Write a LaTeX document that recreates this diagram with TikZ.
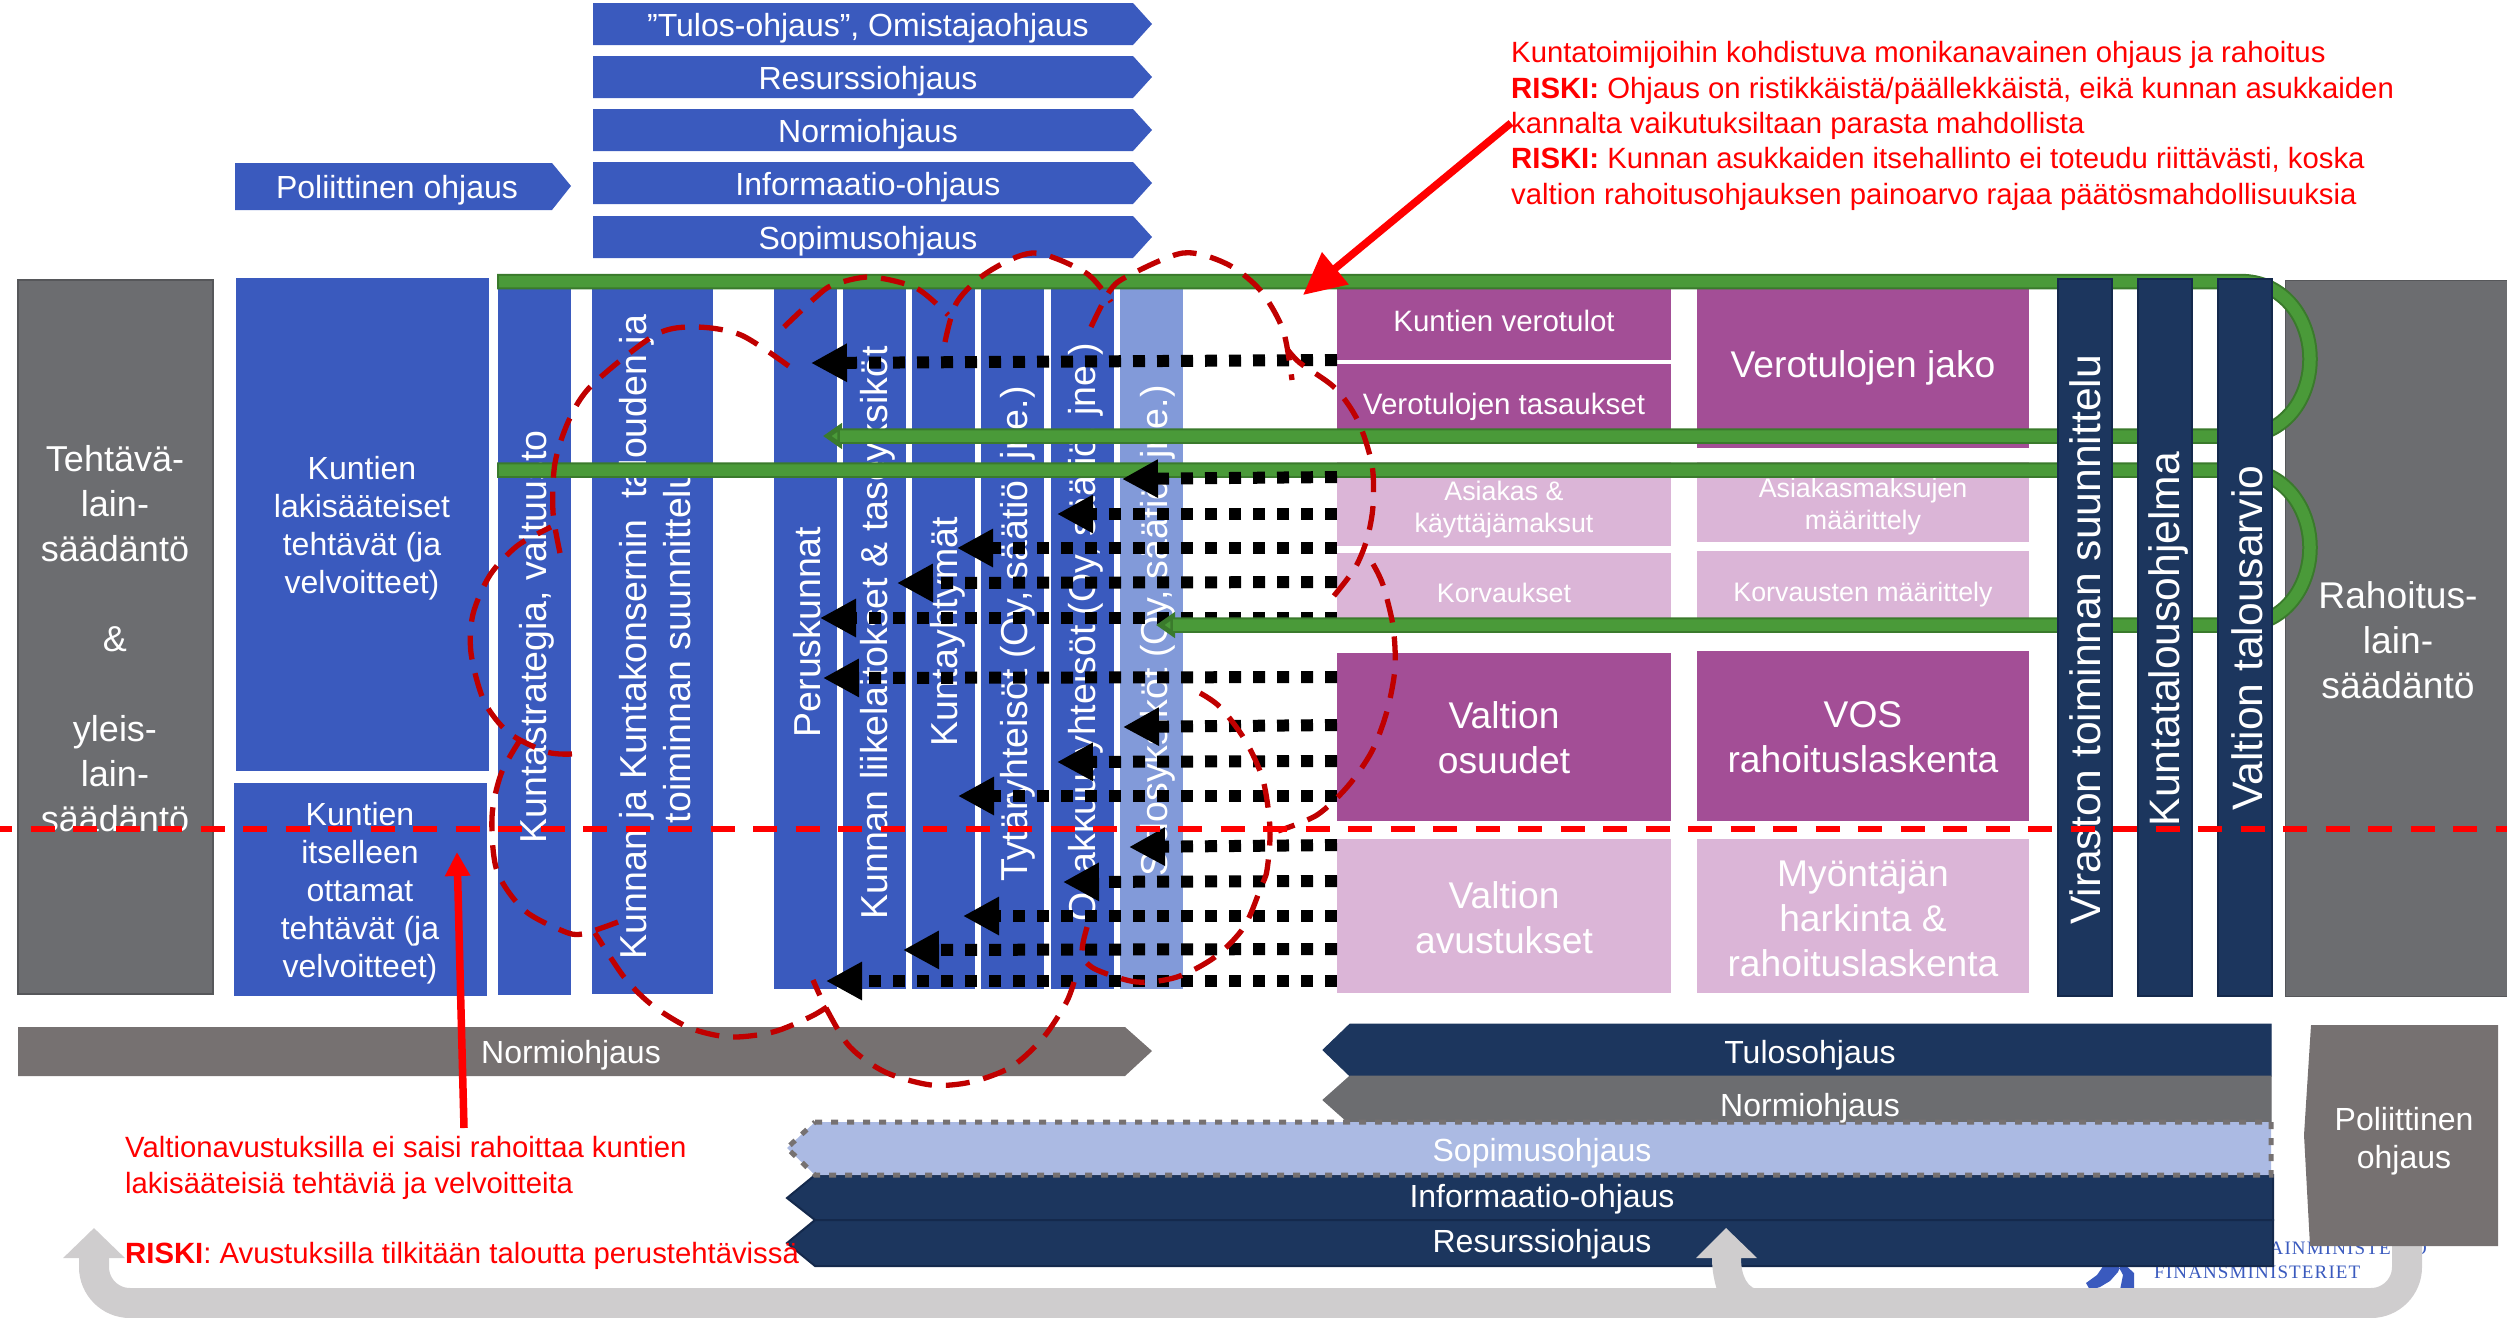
\documentclass[tikz,border=0pt]{standalone}
\usepackage{fontspec}
\setmainfont{Liberation Sans}
\newfontfamily\logofont[LetterSpace=6]{Liberation Serif}
\usetikzlibrary{arrows.meta}
\definecolor{cblue}{HTML}{3A5ABE}
\definecolor{clight}{HTML}{829AD9}
\definecolor{csop}{HTML}{ABBAE3}
\definecolor{cnavy}{HTML}{1C365E}
\definecolor{cnavyd}{HTML}{14294C}
\definecolor{cgrey}{HTML}{6C6D70}
\definecolor{cgreyw}{HTML}{767171}
\definecolor{cpur}{HTML}{A34E96}
\definecolor{cpink}{HTML}{DBB5D7}
\definecolor{cgreen}{HTML}{4A9A39}
\definecolor{cgreend}{HTML}{3A7A2C}
\definecolor{cband}{HTML}{CFCDCE}
\definecolor{cdred}{HTML}{C00000}
\tikzset{
  wt/.style={text=white,align=center,inner sep=0pt},
  f32/.style={wt,font=\fontsize{32}{38}\selectfont},
  f36/.style={wt,font=\fontsize{36}{45}\selectfont},
  f37/.style={wt,font=\fontsize{37.2}{45}\selectfont},
  f42/.style={wt,font=\fontsize{42.6}{45}\selectfont,rotate=90},
  f29/.style={wt,font=\fontsize{29.5}{32}\selectfont},
  f27/.style={wt,font=\fontsize{26.8}{32}\selectfont},
  col/.style={wt,font=\fontsize{37.5}{44}\selectfont,rotate=90},
  rtxt/.style={text=red,align=left,inner sep=0pt,font=\fontsize{29.3}{35.3}\selectfont},
  dotarr/.style={black,line width=12pt,dash pattern=on 12pt off 12pt,-{Triangle[length=36pt,width=36pt]}},
  lobe/.style={draw=cdred,line width=5.3pt,dash pattern=on 24pt off 14pt},
  greenout/.style={draw=cgreend,line width=15.5pt},
  greenin/.style={draw=cgreen,line width=11.5pt},
  redarrow/.style={draw=red,line width=7.5pt},
}
\begin{document}
\begin{tikzpicture}[x=1pt,y=-1pt]
\useasboundingbox (0,0) rectangle (2507,1317);
% logo
\node[anchor=base west,inner sep=0pt,text=cblue,font=\fontsize{19}{20}\selectfont\logofont] (logoa) at (2155,1254) {VALTIOVARAINMINISTERIÖ};
\node[anchor=base west,inner sep=0pt,text=cblue,font=\fontsize{19}{20}\selectfont\logofont] (logob) at (2154,1278) {FINANSMINISTERIET};
\fill[cblue] (2106,1262) -- (2097,1275) -- (2086,1283) -- (2090,1290) -- (2100,1287) -- (2110,1281) -- (2118,1272) -- (2122,1262) -- (2134,1273) -- (2134,1290) -- (2120,1290) -- (2123,1275) -- (2116,1262) -- cycle;
% bottom chevrons
\draw[fill=cnavy,draw=cnavy,line width=1pt] (1350,1024) -- (2271,1024) -- (2271,1076) -- (1350,1076) -- (1323,1050) -- cycle;
\node[f32] (tulos) at (1810,1055) {Tulosohjaus};
\draw[fill=cgrey,draw=cgrey,line width=1pt] (1350,1076) -- (2271,1076) -- (2271,1124) -- (1350,1124) -- (1323,1100) -- cycle;
\draw[fill=cnavy,draw=cnavyd,line width=2pt] (815,1175) -- (2273,1175) -- (2273,1220) -- (815,1220) -- (787,1198) -- cycle;
\node[f32] (info) at (1542,1199) {Informaatio-ohjaus};
\draw[fill=cnavy,draw=cnavyd,line width=2pt] (815,1220) -- (2273,1220) -- (2273,1266) -- (815,1266) -- (787,1243) -- cycle;
\node[f32] (resurssi) at (1542,1244) {Resurssiohjaus};
\fill[csop] (815,1122) -- (2271,1122) -- (2271,1175) -- (815,1175) -- (787,1148) -- cycle;
\draw[cgreyw,line width=5pt,dash pattern=on 7pt off 9pt] (815,1122) -- (2271,1122) -- (2271,1175) -- (815,1175) -- (787,1148) -- cycle;
\node[f32] (normir) at (1810,1108) {Normiohjaus};
\node[f32] (sopr) at (1542,1153) {Sopimusohjaus};
% grey return arrow
\coordinate (bandS) at (2407,1230);
\coordinate (bandE) at (94,1228);
\draw[cband,line width=30pt,rounded corners=36pt,-{Triangle[length=30pt,width=60pt]}] (bandS) -- (2407,1303) -- (94,1303) -- (bandE);
\fill[cband] (1696,1258) -- (1726,1228) -- (1757,1258) -- (1741,1258) .. controls (1741,1275) and (1747,1290) .. (1762,1290) -- (1717,1290) .. controls (1714,1280) and (1712,1270) .. (1712,1258) -- cycle;
% right polit
\fill[cgreyw] (2311,1025) -- (2498,1025) -- (2498,1246) -- (2310,1246) -- (2304,1135) -- cycle;
\node[f32] (polr) at (2404,1141) {Poliittinen\\ohjaus};
% Normiohjaus left
\fill[cgreyw] (18,1027) -- (1125,1027) -- (1152,1051) -- (1125,1076) -- (18,1076) -- cycle;
\node[f32] (norml) at (571,1055) {Normiohjaus};
% top chevrons
\foreach \n/\y/\t in {a/3/{”Tulos-ohjaus”, Omistajaohjaus},b/56/Resurssiohjaus,c/109/Normiohjaus,d/162/Informaatio-ohjaus,e/216/Sopimusohjaus}{
  \fill[cblue] (593,\y) -- (1133,\y) -- (1152,\y+21) -- (1133,\y+42) -- (593,\y+42) -- cycle;
  \node[f32] (top\n) at (868,\y+25) {\t};
}
\fill[cblue] (235,163) -- (552,163) -- (571,186) -- (552,210) -- (235,210) -- cycle;
\node[f32] (poll) at (397,190) {Poliittinen ohjaus};
% left boxes
\draw[fill=cgrey,draw=cgrey!80!black,line width=2pt] (18,280) rectangle (213,994);
\node[f36] (teht) at (115,639) {Tehtävä-\\lain-\\säädäntö\\[45pt]\&\\[45pt]yleis-\\lain-\\säädäntö};
\fill[cblue] (236,278) rectangle (489,771);
\node[f32] (lak) at (362,528) {Kuntien\\lakisääteiset\\tehtävät (ja\\velvoitteet)};
\fill[cblue] (234,783) rectangle (487,996);
\node[f32] (its) at (360,893) {Kuntien\\itselleen\\ottamat\\tehtävät (ja\\velvoitteet)};
% columns
\foreach \n/\xa/\xb/\yb/\c in {c1/498/571/995/cblue,c2/592/713/994/cblue,c3/774/837/989/cblue,c4/843/906/989/cblue,c5/912/975/989/cblue,c6/981/1044/989/cblue,c7/1051/1114/989/cblue,c8/1120/1183/989/clight}{
  \fill[\c] (\xa,280) rectangle (\xb,\yb);
}
\node[col] (t1) at (537,637) {Kuntastrategia, valtuusto};
\node[col] (t2) at (655,637) {Kunnan ja Kuntakonsernin \ talouden ja\\toiminnan suunnittelu\hspace*{18pt}};
\node[col] (t3) at (807,632) {Peruskunnat};
\node[col] (t4) at (878,633) {Kunnan liikelaitokset \& taseyksiköt};
\node[col] (t5) at (948,632) {Kuntayhtymät};
\node[col] (t6) at (1018,634) {Tytäryhteisöt (Oy, säätiö, jne.)};
\node[col] (t7) at (1086,632) {Osakkuusyhteisöt (Oy, säätiö, jne.)};
\node[col] (t8) at (1158,631) {Sidosyksiköt (Oy, säätiö, jne.)};
% purple boxes
\fill[cpur] (1337,289) rectangle (1671,360);
\node[f29] (vt) at (1504,321) {Kuntien verotulot};
\fill[cpur] (1337,364) rectangle (1671,430);
\node[f29] (vtt) at (1504,407) {Verotulojen tasaukset};
\fill[cpur] (1697,289) rectangle (2029,448);
\node[f37] (vj) at (1863,368) {Verotulojen jako};
\fill[cpink] (1337,462) rectangle (1671,546);
\node[f27] (as) at (1504,510) {Asiakas \&\\käyttäjämaksut};
\fill[cpink] (1697,462) rectangle (2029,542);
\node[f27] (asm) at (1863,507) {Asiakasmaksujen\\määrittely};
\fill[cpink] (1337,553) rectangle (1671,620);
\node[f27] (ko) at (1504,593) {Korvaukset};
\fill[cpink] (1697,551) rectangle (2029,620);
\node[f27] (kom) at (1863,595) {Korvausten määrittely};
\fill[cpur] (1337,653) rectangle (1671,821);
\node[f37] (vo) at (1504,738) {Valtion\\osuudet};
\fill[cpur] (1697,651) rectangle (2029,821);
\node[f37] (vos) at (1863,737) {VOS\\rahoituslaskenta};
\fill[cpink] (1337,839) rectangle (1671,993);
\node[f37] (va) at (1504,918) {Valtion\\avustukset};
\fill[cpink] (1697,839) rectangle (2029,993);
\node[f37] (my) at (1863,918) {Myöntäjän\\harkinta \&\\rahoituslaskenta};
% right grey
\draw[fill=cgrey,draw=cgrey!80!black,line width=1pt] (2285,280) rectangle (2508,996);
\node[f37] (rah) at (2398,640) {Rahoitus-\\lain-\\säädäntö};
% dotted arrows
\foreach \i/\xa/\ya/\yb in {1/811/363/360,3/1057/514/514,4/957/548/548,5/897/583/582,6/820/618/618,7/823/678/677,8/1123/727/725,9/1057/762/761,10/958/796/796,11/1129/847/845,12/1063/882/881,13/963/916/916,14/903/950/949,15/826/981/981}{
  \coordinate (src\i) at (1337,\yb);
  \coordinate (dst\i) at (\xa,\ya);
  \draw[dotarr] (src\i) -- (dst\i);
}
% green loops
\coordinate (g1s) at (497,281.5);
\coordinate (g1e) at (823,436);
\coordinate (g2s) at (497,470);
\coordinate (g2e) at (1156,625);
\draw[greenout,-{Triangle[length=19pt,width=25pt,fill=cgreen]}] (g1s) -- (2240,281.5) .. controls (2285,281.5) and (2310,320) .. (2310,359) .. controls (2310,398) and (2285,436) .. (2240,436) -- (g1e);
\draw[greenin] (499,281.5) -- (2240,281.5) .. controls (2285,281.5) and (2310,320) .. (2310,359) .. controls (2310,398) and (2285,436) .. (2240,436) -- (840,436);
\draw[greenout,-{Triangle[length=19pt,width=25pt,fill=cgreen]}] (g2s) -- (2240,470) .. controls (2285,470) and (2310,509) .. (2310,547.5) .. controls (2310,586) and (2285,625) .. (2240,625) -- (g2e);
\draw[greenin] (499,470) -- (2240,470) .. controls (2285,470) and (2310,509) .. (2310,547.5) .. controls (2310,586) and (2285,625) .. (2240,625) -- (1173,625);
% second dotted arrow above the green bar
\coordinate (src2) at (1337,477);
\coordinate (dst2) at (1122,479);
\draw[dotarr] (src2) -- (dst2);
% navy columns
\draw[fill=cnavy,draw=cnavyd,line width=1.5pt] (2058,279) rectangle (2112,996);
\node[f42] (n1) at (2085,640) {Viraston toiminnan suunnittelu};
\draw[fill=cnavy,draw=cnavyd,line width=1.5pt] (2138,279) rectangle (2192,996);
\node[f42] (n2) at (2168,639) {Kuntatalousohjelma};
\draw[fill=cnavy,draw=cnavyd,line width=1.5pt] (2218,279) rectangle (2272,996);
\node[f42] (n3) at (2247,638) {Valtion talousarvio};
% cloud lobes
\draw[lobe] plot[smooth] coordinates {(560,553)(553,512)(555,463)(569,420)(592,385)(655,335)(695,327)(741,335)(790,367)};
\draw[lobe] plot[smooth] coordinates {(784,327)(816,297)(833,285)(870,277)(916,288)(948,315)};
\draw[lobe] plot[smooth] coordinates {(945,342)(957,302)(988,272)(1034,253)(1086,273)(1111,302)};
\draw[lobe] plot[smooth] coordinates {(1091,327)(1109,292)(1126,277)(1183,253)(1227,264)(1260,290)(1283,330)(1292,380)};
\draw[lobe] plot[smooth] coordinates {(1287,349)(1300,363)(1335,388)(1358,421)(1372,465)(1373,506)(1367,539)(1355,568)(1333,597)};
\draw[lobe] plot[smooth] coordinates {(1373,564)(1383,585)(1393,626)(1395,668)(1387,711)(1372,751)(1348,786)(1317,815)(1278,831)};
\draw[lobe] plot[smooth] coordinates {(1200,693)(1220,707)(1245,740)(1263,780)(1270,829)(1267,870)(1261,887)(1244,927)(1215,957)(1177,977)(1137,982)(1097,970)(1083,958)(1083,943)(1089,920)};
\draw[lobe] plot[smooth] coordinates {(1074,982)(1066,1003)(1043,1038)(1011,1067)(971,1082)(931,1085)(885,1072)(850,1047)(827,1010)(813,980)};
\draw[lobe] plot[smooth] coordinates {(827,1007)(810,1017)(773,1032)(730,1037)(690,1028)(652,1005)(624,977)(595,933)};
\draw[lobe] plot[smooth] coordinates {(618,922)(582,934)(563,931)(524,910)(497,871)(492,817)(501,774)(520,740)};
\draw[lobe] plot[smooth] coordinates {(572,754)(547,752)(509,733)(484,701)(471,653)(473,614)(490,575)(517,546)(551,527)};
% red line
\coordinate (rl1) at (-12,829);
\coordinate (rl2) at (2507,829);
\draw[red,line width=6pt,dash pattern=on 24pt off 18.5pt] (rl1) -- (rl2);
% red texts
\node[rtxt,anchor=west] (rt1) at (1511,126) {Kuntatoimijoihin kohdistuva monikanavainen ohjaus ja rahoitus\\\textbf{RISKI:} Ohjaus on ristikkäistä/päällekkäistä, eikä kunnan asukkaiden\\kannalta vaikutuksiltaan parasta mahdollista\\\textbf{RISKI:} Kunnan asukkaiden itsehallinto ei toteudu riittävästi, koska\\valtion rahoitusohjauksen painoarvo rajaa päätösmahdollisuuksia};
\node[rtxt,anchor=west] (rt2) at (125,1168) {Valtionavustuksilla ei saisi rahoittaa kuntien\\lakisääteisiä tehtäviä ja velvoitteita};
\node[rtxt,anchor=west] (rt3) at (125,1256) {\textbf{RISKI}: Avustuksilla tilkitään taloutta perustehtävissä};
% red arrows
\coordinate (ra1) at (1511,123);
\coordinate (ra1t) at (1303,295);
\coordinate (ra2) at (464,1128);
\coordinate (ra2t) at (457,852);
\draw[redarrow,-{Triangle[length=42pt,width=40pt]}] (ra1) -- (ra1t);
\draw[redarrow,-{Triangle[length=24pt,width=24pt]}] (ra2) -- (ra2t);
\end{tikzpicture}
\end{document}
